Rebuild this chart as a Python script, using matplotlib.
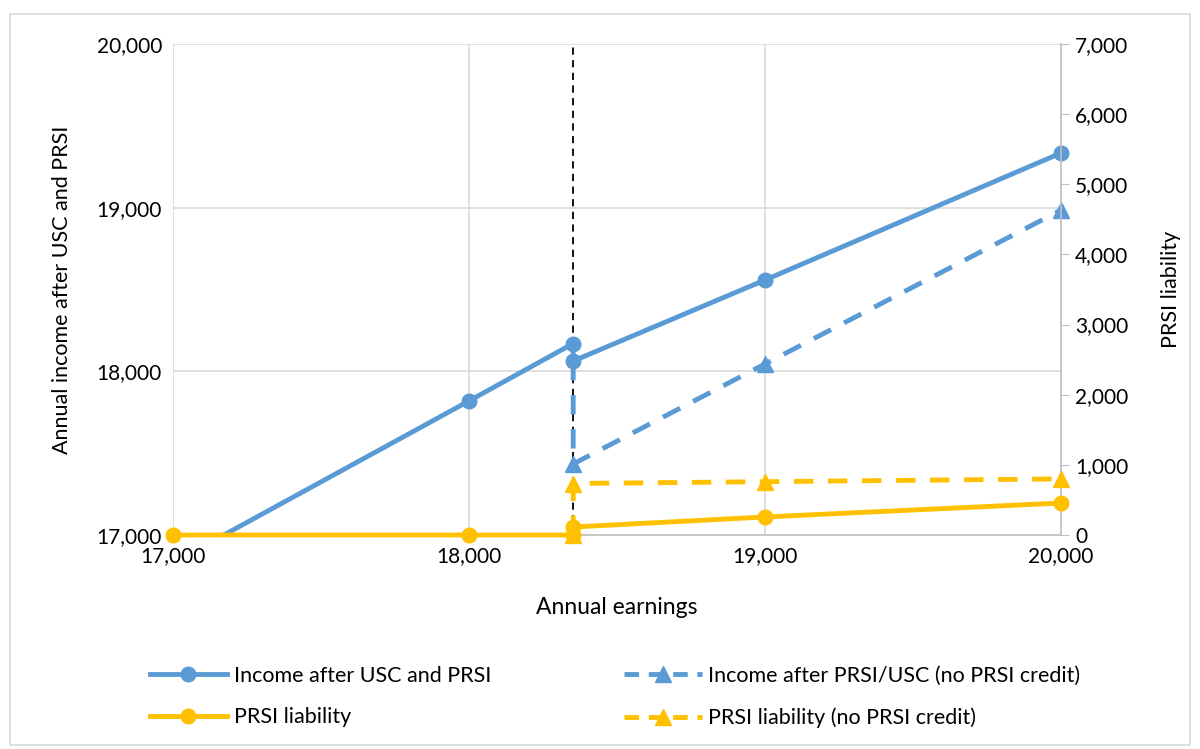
import matplotlib.pyplot as plt
from matplotlib.patches import Rectangle
from matplotlib.ticker import FuncFormatter
from matplotlib.lines import Line2D

plt.rcParams['font.family'] = ['Lato', 'DejaVu Sans']

# data
threshold = 18352
inc_x = [17000, 18000, 18352, 18352, 19000, 20000]
inc_y = [16830, 17819, 18170, 18063, 18558, 19334]
inc_np_x = [18352, 18352, 19000, 20000]
inc_np_y = [18063, 17434, 18045, 18985]
prsi_x = [17000, 18000, 18352, 18352, 19000, 20000]
prsi_y = [0, 0, 0, 114, 257, 456]
prsi_np_x = [18352, 18352, 19000, 20000]
prsi_np_y = [0, 734, 760, 800]

blue = '#5B9BD5'
orange = '#FFC000'
grid = '#D9D9D9'

fig = plt.figure(figsize=(12, 7.49), dpi=100)
fig.patches.append(Rectangle((10/1200, 4/749), 1180/1200, 731/749, transform=fig.transFigure,
                             fill=False, edgecolor=grid, linewidth=1.2))
ax = fig.add_axes([173/1200, 1 - 535/749, 888/1200, 491/749])
ax2 = ax.twinx()

ax.set_xlim(17000, 20000)
ax.set_ylim(17000, 20000)
ax2.set_ylim(0, 7000)
ax.set_xticks([17000, 18000, 19000, 20000])
ax.set_yticks([17000, 18000, 19000, 20000])
ax2.set_yticks(range(0, 7001, 1000))
fmt = FuncFormatter(lambda v, p: f'{int(v):,}')
for a in (ax, ax2):
    a.xaxis.set_major_formatter(fmt)
    a.yaxis.set_major_formatter(fmt)
    for s in a.spines.values():
        s.set_visible(False)
ax.grid(True, color=grid, linewidth=1.2)
ax.set_axisbelow(True)
ax.tick_params(axis='both', length=0, labelsize=15, pad=8)
ax2.spines['right'].set_visible(True)
ax2.spines['right'].set_color('#BFBFBF')
ax2.spines['right'].set_linewidth(1.2)
ax2.tick_params(axis='y', length=6, color='#BFBFBF', labelsize=15, pad=4)
ax.spines['bottom'].set_visible(True)
ax.spines['bottom'].set_color('#BFBFBF')
ax.spines['bottom'].set_linewidth(1.2)

ax.set_xlabel('Annual earnings', fontsize=16.5, labelpad=22)
ax.set_ylabel('Annual income after USC and PRSI', fontsize=15.5, labelpad=18)
ax2.set_ylabel('PRSI liability', fontsize=15.5, labelpad=24)

ax.axvline(threshold, color='black', linestyle=(0, (4, 3)), linewidth=1.3, zorder=1)

# solid income line is clipped at the bottom, its visible markers are not
ax.plot(inc_x, inc_y, color=blue, linewidth=3.5, zorder=3)
ax.plot(inc_x[1:], inc_y[1:], color=blue, linestyle='none', marker='o', markersize=10.5,
        zorder=3, clip_on=False)
ax.plot(inc_np_x, inc_np_y, color=blue, linewidth=3.5, linestyle=(0, (4, 3)),
        marker='^', markersize=11.5, markevery=[1, 2, 3], zorder=2, clip_on=False)
ax2.plot(prsi_x, prsi_y, color=orange, linewidth=3.5, marker='o', markersize=10.5,
         zorder=3, clip_on=False)
ax2.plot(prsi_np_x, prsi_np_y, color=orange, linewidth=3.5, linestyle=(0, (4, 3)),
         marker='^', markersize=11.5, zorder=3, clip_on=False)

handles = [
    Line2D([], [], color=blue, linewidth=3.5, marker='o', markersize=10.5),
    Line2D([], [], color=orange, linewidth=3.5, marker='o', markersize=10.5),
    Line2D([], [], color=blue, linewidth=3.5, linestyle=(0, (3, 2)), marker='^', markersize=11.5),
    Line2D([], [], color=orange, linewidth=3.5, linestyle=(0, (3, 2)), marker='^', markersize=11.5),
]
labels = ['Income after USC and PRSI', 'PRSI liability',
          'Income after PRSI/USC (no PRSI credit)', 'PRSI liability (no PRSI credit)']
fig.legend(handles, labels, loc='center', bbox_to_anchor=(615/1200, 1 - 697/749), ncol=2,
           frameon=False, fontsize=15.5, handlelength=3.6, columnspacing=6.2, labelspacing=1.0,
           handletextpad=0.3)

fig.savefig('out.png', dpi=100)
